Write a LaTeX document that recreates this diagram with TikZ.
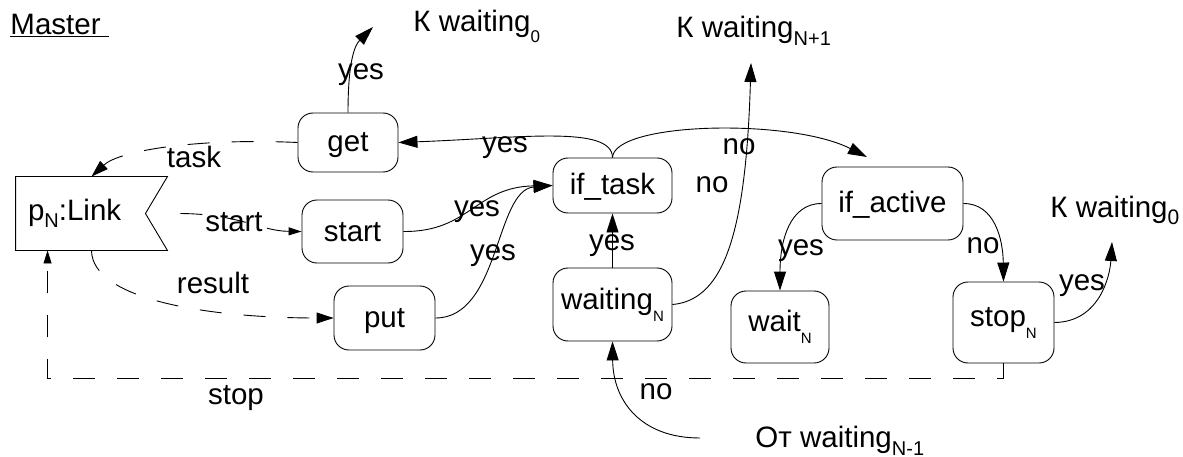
\documentclass[tikz,border=0pt]{standalone}
\usepackage{fontspec}
\setmainfont{Liberation Sans}
\usetikzlibrary{arrows.meta,calc}
% lowered subscript: drop (pt), size (pt), text
\newcommand{\lowsub}[3]{\raisebox{-#1pt}{\fontsize{#2}{#2}\selectfont #3}}

\begin{document}
\begin{tikzpicture}[x=1pt,y=-1pt,
  font=\fontsize{29.5}{34}\selectfont,
  line width=0.9pt,
  state/.style={draw, rounded corners=15pt, inner sep=0pt, align=center},
  plain/.style={text height=19pt, text depth=0pt},
  lbl/.style={anchor=base, inner sep=0pt},
  txt/.style={anchor=base west, inner sep=0pt},
  flow/.style={-{Triangle[length=19pt,width=12pt]}},
  msg/.style={dash pattern=on 22pt off 22pt, -{Triangle[length=17pt,width=11pt]}},
  smallmsg/.style={dash pattern=on 22pt off 22pt, -{Triangle[length=13pt,width=8pt]}}]

\useasboundingbox (0,0) rectangle (1183,457);

% title
\node[txt] (title) at (10,35) {\underline{Master\ }};

% link process with notched right side
\node[inner xsep=12pt, inner ysep=0pt, text width=127pt, align=left,
      minimum height=73pt] (link) at (91.5,213.5) {p\lowsub{7}{20}{N}:Link};
\draw (link.north west) -- (link.north east) -- ($(link.east)+(-22,0)$)
      -- (link.south east) -- (link.south west) -- cycle;

% states
\node[state, plain, minimum width=100pt, minimum height=59pt] (get)      at (348,142.5)  {get};
\node[state, plain, minimum width=101pt, minimum height=63pt] (start)    at (352.5,231.5) {start};
\node[state, plain, minimum width=101pt, minimum height=64pt] (put)      at (384.5,318)  {put};
\node[state, plain, minimum width=119pt, minimum height=55pt] (iftask)   at (612.5,185.5) {if\_task};
\node[state, minimum width=119pt, minimum height=73pt] (waiting)  at (612.5,304.5) {waiting\lowsub{12}{15}{N}};
\node[state, minimum width=98pt,  minimum height=72pt] (wait)     at (780,327)    {wait\lowsub{12}{15}{N}};
\node[state, plain, minimum width=141pt, minimum height=73pt] (ifactive) at (892.5,203.5) {if\_active};
\node[state, minimum width=101pt, minimum height=81pt] (stop)     at (1003.5,322.5) {stop\lowsub{12}{15}{N}};

% outer targets
\node[txt] (kzero)  at (413,32)  {К waiting\lowsub{11}{17}{0}};
\node[txt] (knext)  at (676,38)  {К waiting\lowsub{8}{20}{N+1}};
\node[txt] (kzeroR) at (1050,218) {К waiting\lowsub{7}{21}{0}};
\node[txt] (fromprev) at (755,447) {От waiting\lowsub{8}{20}{N-1}};

\coordinate (kzeroIn)  at (373,27);
\coordinate (knextIn)  at (751,63);
\coordinate (kzeroRIn) at (1112,242);
\coordinate (iaIn)     at (867,157);
\coordinate (fromOut)  at (700,438);

% control flow
\draw[flow] (get.north) .. controls (348,60) and (355,45) .. (kzeroIn);
\draw[flow] (iftask.north) .. controls (612,125) and (520,138) .. (get.east);
\draw[flow] (iftask.north) .. controls (614,122) and (790,118) .. (iaIn);
\draw[flow] (waiting.east) .. controls (725,300) and (746,230) .. (knextIn);
\draw[flow] (waiting.north) -- (iftask.south);
\draw[flow] (start.east) .. controls (470,232) and (475,187) .. (iftask.west);
\draw[flow] (put.east) .. controls (500,318) and (495,190) .. (iftask.west);
\draw[flow] (fromOut) .. controls (640,438) and (613,400) .. (waiting.south);
\draw[flow] (ifactive.west) .. controls (790,203.5) and (780,240) .. (wait.north);
\draw[flow] (ifactive.east) .. controls (995,203.5) and (1003,240) .. (stop.north);
\draw[flow] (stop.east) .. controls (1100,322) and (1110,275) .. (kzeroRIn);

% messages
\draw[msg] (get.west) .. controls (200,138) and (120,150) .. (link.north);
\draw[smallmsg] ($(link.east)+(13,0)$) .. controls (240,214) and (260,231) .. (start.west);
\draw[msg] (link.south) .. controls (92,300) and (210,318) .. (put.west);
\draw[smallmsg] (stop.south) -- ++(0,15) -| ($(link.south west)+(32,0)$);

% labels
\node[lbl] (l1)  at (361,80)   {yes};
\node[lbl] (l2)  at (505,153)  {yes};
\node[lbl] (l3)  at (739,155)  {no};
\node[lbl] (l4)  at (712,193)  {no};
\node[lbl] (l5)  at (194,168)  {task};
\node[lbl] (l6)  at (234,232)  {start};
\node[lbl] (l7)  at (213,293)  {result};
\node[lbl] (l8)  at (236,404)  {stop};
\node[lbl] (l9)  at (477,217)  {yes};
\node[lbl] (l10) at (493,260)  {yes};
\node[lbl] (l11) at (612,250)  {yes};
\node[lbl] (l12) at (656,399)  {no};
\node[lbl] (l13) at (801,255)  {yes};
\node[lbl] (l14) at (983,253)  {no};
\node[lbl] (l15) at (1082,290) {yes};
\end{tikzpicture}
\end{document}
